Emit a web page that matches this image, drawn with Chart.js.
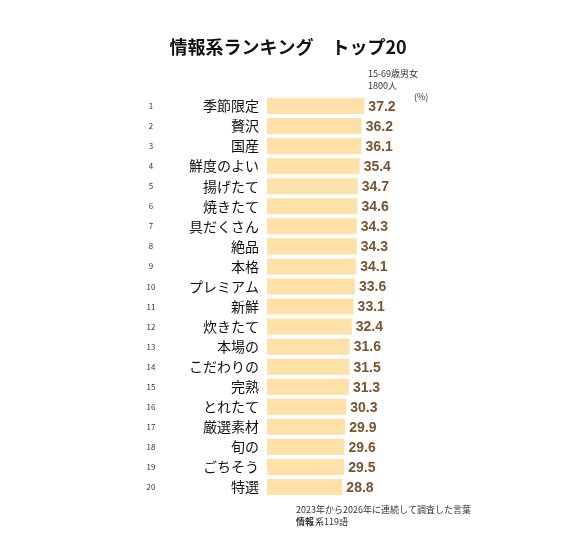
<!DOCTYPE html>
<html><head><meta charset="utf-8">
<script src="https://cdn.jsdelivr.net/npm/chart.js@4/dist/chart.umd.min.js"></script>
<style>html,body{margin:0;background:#fff}#wrap{width:576px;height:546px}</style>
</head><body><div id="wrap"><canvas id="c"></canvas></div>
<script>
const labels = ['季節限定','贅沢','国産','鮮度のよい','揚げたて','焼きたて','具だくさん','絶品','本格','プレミアム','新鮮','炊きたて','本場の','こだわりの','完熟','とれたて','厳選素材','旬の','ごちそう','特選'];
const values = [37.2,36.2,36.1,35.4,34.7,34.6,34.3,34.3,34.1,33.6,33.1,32.4,31.6,31.5,31.3,30.3,29.9,29.6,29.5,28.8];

const FONT = "'Noto Sans CJK JP', sans-serif";

const decor = {
  id: 'decor',
  afterDraw(chart) {
    const ctx = chart.ctx;
    const y = chart.scales.y, x = chart.scales.x;
    ctx.save();
    ctx.textBaseline = 'middle';
    labels.forEach((l, i) => {
      const py = y.getPixelForValue(i);
      ctx.fillStyle = '#333';
      ctx.font = `8px ${FONT}`;
      ctx.textAlign = 'center';
      ctx.fillText(String(i + 1), 151, py);
      ctx.fillStyle = '#111';
      ctx.font = `14px ${FONT}`;
      ctx.textAlign = 'right';
      ctx.fillText(l, 259, py);
      ctx.fillStyle = '#7a5431';
      ctx.font = `bold 14px Arial, ${FONT}`;
      ctx.textAlign = 'left';
      ctx.fillText(values[i].toFixed(1), x.getPixelForValue(values[i]) + 4, py + 1);
    });
    ctx.fillStyle = '#111';
    ctx.font = `bold 18px ${FONT}`;
    ctx.textAlign = 'center';
    ctx.fillText('情報系ランキング　トップ20', 288, 47);
    ctx.fillStyle = '#333';
    ctx.font = `9px ${FONT}`;
    ctx.textAlign = 'left';
    ctx.fillText('15-69歳男女', 368, 74);
    ctx.fillText('1800人', 368, 86);
    ctx.fillText('(%)', 414, 97);
    ctx.fillText('2023年から2026年に連続して調査した言葉', 296, 510);
    ctx.font = `bold 9px ${FONT}`;
    ctx.fillText('情報', 296, 522);
    ctx.font = `9px ${FONT}`;
    ctx.fillText('系119語', 296 + ctx.measureText('情報').width + 1, 522);
    ctx.restore();
  }
};

new Chart(document.getElementById('c'), {
  type: 'bar',
  data: { labels, datasets: [{ data: values, backgroundColor: '#fde1a9', borderWidth: 0,
    categoryPercentage: 0.8, barPercentage: 1 }] },
  options: {
    indexAxis: 'y', responsive: true, maintainAspectRatio: false, animation: false,
    layout: { padding: { left: 267, right: 152, top: 96, bottom: 49 } },
    plugins: { legend: { display: false }, tooltip: { enabled: false } },
    scales: {
      x: { display: false, min: 0, max: 60 },
      y: { display: false }
    }
  },
  plugins: [decor]
});
</script></body></html>
